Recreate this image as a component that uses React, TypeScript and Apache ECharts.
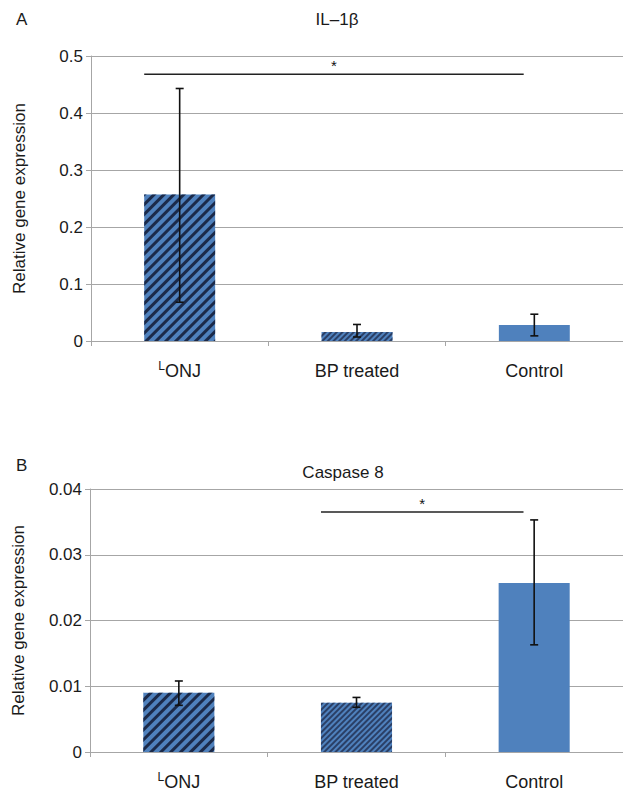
import React, { useEffect, useRef } from "react";
import * as echarts from "echarts";

const categories = ["LONJ", "BP treated", "Control"];

const il1bMean = [0.257, 0.016, 0.028];
const il1bLow = [0.068, 0.007, 0.009];
const il1bHigh = [0.443, 0.029, 0.047];
const il1bSig = [[0, 2, 0.468]];

const casp8Mean = [0.009, 0.0075, 0.0257];
const casp8Low = [0.0071, 0.0068, 0.0163];
const casp8High = [0.0108, 0.0083, 0.0353];
const casp8Sig = [[1, 2, 0.0365]];

const yTicksA = { min: 0, max: 0.5, interval: 0.1 };
const yTicksB = { min: 0, max: 0.04, interval: 0.01 };

const BLUE = "#4f81bd";
const NAVY = "#1b2a4a";
const GRID = "#a6a6a6";
const FONT = "Liberation Sans";
const TXT = "#1a1a1a";

const barStyles = [
  {
    color: BLUE,
    decal: {
      symbol: "rect",
      symbolSize: 1,
      dashArrayX: [1, 0],
      dashArrayY: [3, 3.5],
      rotation: -Math.PI / 4,
      color: NAVY,
    },
  },
  {
    color: BLUE,
    decal: {
      symbol: "rect",
      symbolSize: 1,
      dashArrayX: [1, 0],
      dashArrayY: [1.5, 2],
      rotation: -Math.PI / 4,
      color: "#2a3f66",
    },
  },
  { color: BLUE },
];

function errRender(params: any, api: any) {
  const x = api.value(0);
  const lo = api.coord([x, api.value(1)]);
  const hi = api.coord([x, api.value(2)]);
  const h = 4;
  const st = { stroke: "#111", lineWidth: 1.6 };
  return {
    type: "group",
    children: [
      { type: "line", shape: { x1: lo[0], y1: lo[1], x2: hi[0], y2: hi[1] }, style: st },
      { type: "line", shape: { x1: lo[0] - h, y1: lo[1], x2: lo[0] + h, y2: lo[1] }, style: st },
      { type: "line", shape: { x1: hi[0] - h, y1: hi[1], x2: hi[0] + h, y2: hi[1] }, style: st },
    ],
  };
}

function sigRender(params: any, api: any) {
  const y = api.value(2);
  const p1 = api.coord([api.value(0), y]);
  const p2 = api.coord([api.value(1), y]);
  const w = api.size([1, 0])[0];
  const x1 = p1[0] - 0.2 * w;
  const x2 = p2[0] - 0.06 * w;
  return {
    type: "group",
    children: [
      { type: "line", shape: { x1, y1: p1[1], x2, y2: p1[1] }, style: { stroke: "#222", lineWidth: 1.6 } },
      {
        type: "text",
        x: (x1 + x2) / 2,
        y: p1[1] - 9,
        style: { text: "*", fontSize: 15, fontFamily: FONT, fill: "#111", align: "center", verticalAlign: "middle" },
      },
    ],
  };
}

function makeXAxis(gridIndex: number) {
  return {
    type: "category",
    gridIndex,
    data: categories,
    axisLine: { lineStyle: { color: GRID, width: 1 } },
    axisTick: { show: true, length: 5, lineStyle: { color: GRID } },
    axisLabel: {
      margin: 19,
      fontSize: 18,
      fontFamily: FONT,
      color: TXT,
      formatter: (v: string) => (v === "LONJ" ? "{sup|L}{n|ONJ}" : "{n|" + v + "}"),
      rich: {
        sup: { fontSize: 12, fontFamily: FONT, color: TXT, verticalAlign: "top", lineHeight: 21 },
        n: { fontSize: 18, fontFamily: FONT, color: TXT, lineHeight: 21 },
      },
    },
  };
}

function makeYAxis(gridIndex: number, t: any) {
  return {
    type: "value",
    gridIndex,
    min: t.min,
    max: t.max,
    interval: t.interval,
    name: "Relative gene expression",
    nameLocation: "middle",
    nameGap: 63,
    nameTextStyle: { fontSize: 17, fontFamily: FONT, color: TXT },
    axisLine: { show: true, lineStyle: { color: GRID, width: 1 } },
    axisTick: { show: true, length: 5, lineStyle: { color: GRID } },
    axisLabel: { fontSize: 17, fontFamily: FONT, color: TXT, margin: 8 },
    splitLine: { show: true, lineStyle: { color: GRID, width: 1 } },
  };
}

function barSeries(idx: number, values: number[]) {
  return {
    type: "bar",
    xAxisIndex: idx,
    yAxisIndex: idx,
    barWidth: "40%",
    data: values.map((v, i) => ({ value: v, itemStyle: barStyles[i] })),
  };
}

function errSeries(idx: number, lo: number[], hi: number[]) {
  return {
    type: "custom",
    xAxisIndex: idx,
    yAxisIndex: idx,
    renderItem: errRender,
    encode: { x: 0, y: [1, 2] },
    data: lo.map((l, i) => [i, l, hi[i]]),
    z: 5,
  };
}

function sigSeries(idx: number, sig: number[][]) {
  return {
    type: "custom",
    xAxisIndex: idx,
    yAxisIndex: idx,
    renderItem: sigRender,
    encode: { x: [0, 1], y: 2 },
    data: sig,
    z: 5,
  };
}

export default function App() {
  const ref = useRef<HTMLDivElement>(null);
  useEffect(() => {
    if (!ref.current) return;
    const chart = echarts.init(ref.current, null, { renderer: "svg" });
    chart.setOption({
      animation: false,
      backgroundColor: "#ffffff",
      grid: [
        { left: 91, top: 56, width: 543, height: 285 },
        { left: 90, top: 489, width: 538, height: 263 },
      ],
      xAxis: [makeXAxis(0), makeXAxis(1)],
      yAxis: [makeYAxis(0, yTicksA), makeYAxis(1, yTicksB)],
      graphic: [
        { type: "text", x: 16, y: 11, style: { text: "A", fontSize: 17, fontFamily: FONT, fill: TXT } },
        { type: "text", x: 337, y: 11, style: { text: "IL–1β", fontSize: 17, fontFamily: FONT, fill: TXT, align: "center" } },
        { type: "text", x: 16, y: 457, style: { text: "B", fontSize: 17, fontFamily: FONT, fill: TXT } },
        { type: "text", x: 343, y: 464, style: { text: "Caspase 8", fontSize: 17, fontFamily: FONT, fill: TXT, align: "center" } },
      ],
      series: [
        barSeries(0, il1bMean),
        errSeries(0, il1bLow, il1bHigh),
        sigSeries(0, il1bSig),
        barSeries(1, casp8Mean),
        errSeries(1, casp8Low, casp8High),
        sigSeries(1, casp8Sig),
      ],
    });
    return () => chart.dispose();
  }, []);
  return (
    <div
      ref={ref}
      style={{ position: "absolute", left: 0, top: 0, width: 623, height: 793, background: "#fff" }}
    />
  );
}
